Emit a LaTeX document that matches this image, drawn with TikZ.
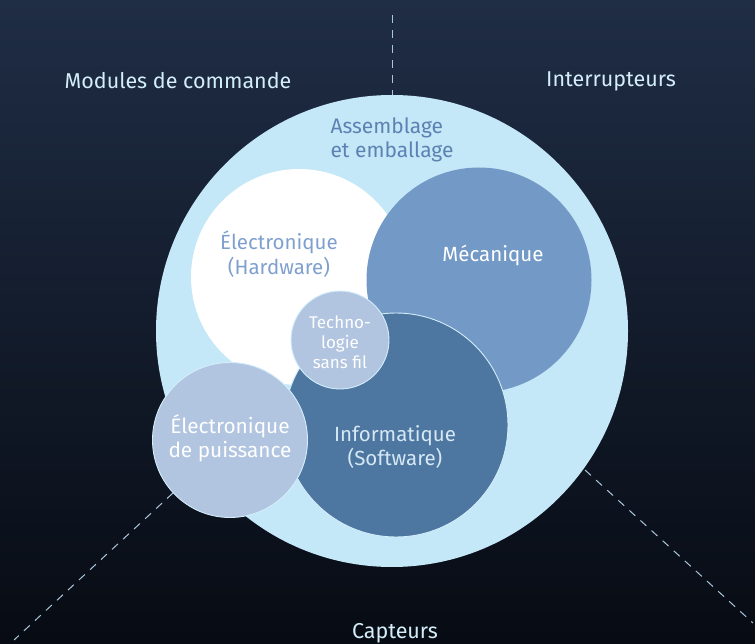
\documentclass[tikz,border=0pt]{standalone}
\usepackage{fontspec}
\setmainfont{Fira Sans}
\usepackage{tikz}
\usetikzlibrary{positioning,calc}

\definecolor{bgtop}{HTML}{1F2D45}
\definecolor{bgmid}{HTML}{131C2C}
\definecolor{bgbot}{HTML}{070B13}
\definecolor{outerfill}{HTML}{C5E8F8}
\definecolor{mecafill}{HTML}{7399C6}
\definecolor{infofill}{HTML}{4D77A1}
\definecolor{palefill}{HTML}{B1C4E0}
\definecolor{rimline}{HTML}{D3EEFA}
\definecolor{dashline}{HTML}{A9C7DA}
\definecolor{softblue}{HTML}{5B82B2}
\definecolor{hwblue}{HTML}{7FA0CE}
\definecolor{infotext}{HTML}{D6E8F5}

\begin{document}
\begin{tikzpicture}[
    x=1pt, y=-1pt,
    font=\fontsize{20.5}{24.5}\selectfont,
    disc/.style={circle, inner sep=0pt, minimum size=#1},
    rim/.style={draw=rimline, line width=0.9pt},
    sector/.style={dashline, line width=1pt, dash pattern=on 8pt off 7pt},
    corner/.style={text=rimline, font=\fontsize{21.5}{25}\selectfont},
    inlabel/.style={align=center, font=\fontsize{20.5}{24.5}\selectfont},
  ]
  % ---------------------------------------------------------------
  % background
  % ---------------------------------------------------------------
  \shade[top color=bgtop, middle color=bgmid, bottom color=bgbot]
    (0,0) rectangle (755,644);
  \useasboundingbox (0,0) rectangle (755,644);

  % ---------------------------------------------------------------
  % sector separators (behind the circles)
  % ---------------------------------------------------------------
  \coordinate (topA) at (392,15);
  \coordinate (topB) at (392,100);
  \coordinate (leftA) at (173,493);
  \coordinate (leftB) at (14,640);
  \coordinate (rightA) at (585,470);
  \coordinate (rightB) at (753,623);
  \draw[sector] (topA) -- (topB);
  \draw[sector] (leftA) -- (leftB);
  \draw[sector] (rightA) -- (rightB);

  % ---------------------------------------------------------------
  % circles
  % ---------------------------------------------------------------
  \node[disc=472pt, fill=outerfill] (pack) at (392,331) {};
  \node[disc=216pt, fill=white] (hw) at (299,277) {};
  \node[disc=225pt, fill=mecafill] (meca) at (479,280) {};
  \node[disc=224pt, fill=infofill, rim] (sw) at (396,425) {};
  \node[disc=98pt, fill=palefill, rim] (wifi) at (340,340) {};
  \node[disc=155pt, fill=palefill, rim] (power) at (230,440) {};

  % ---------------------------------------------------------------
  % labels
  % ---------------------------------------------------------------
  \node[inlabel, align=left, text=softblue, font=\fontsize{21}{24}\selectfont]
    (packlbl) at (392,140) {Assemblage\\et emballage};
  \node[inlabel, text=hwblue] (hwlbl) at (279,254) {Électronique\\(Hardware)};
  \node[inlabel, text=white] (mecalbl) at (493,255) {Mécanique};
  \node[inlabel, text=white, font=\fontsize{17}{20}\selectfont] (wifilbl)
    at (340,342) {Techno-\\logie\\sans fil};
  \node[inlabel, text=infotext] (swlbl) at (395,447) {Informatique\\(Software)};
  \node[inlabel, text=white, font=\fontsize{20.8}{24}\selectfont] (powerlbl)
    at (230,438) {Électronique\\de puissance};

  \node[corner] (ctrl) at (178,81) {Modules de commande};
  \node[corner] (switch) at (611,81) {Interrupteurs};
  \node[corner] (sense) at (395,633) {Capteurs};
\end{tikzpicture}
\end{document}
